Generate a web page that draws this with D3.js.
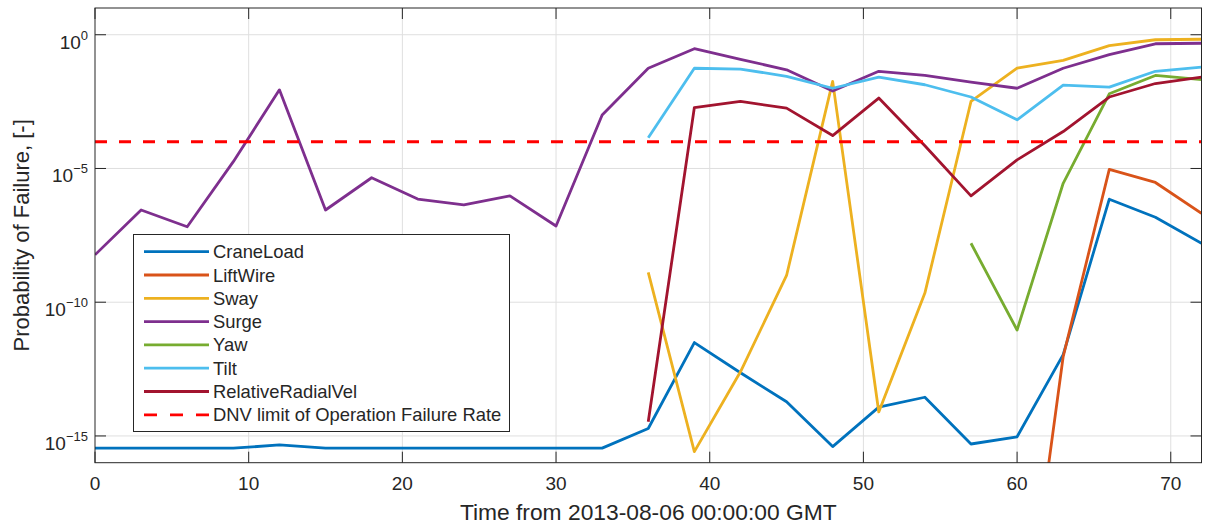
<!DOCTYPE html>
<html>
<head>
<meta charset="utf-8">
<script src="https://cdn.jsdelivr.net/npm/d3@7"></script>
<style>
  html, body { margin: 0; padding: 0; background: #fff; }
  svg { display: block; font-family: "Liberation Sans", Arial, Helvetica, sans-serif; }
</style>
</head>
<body>
<div id="visualization"></div>
<script>
// hours since 2013-08-06 00:00 GMT
const hours = [0, 3, 6, 9, 12, 15, 18, 21, 24, 27, 30, 33, 36, 39, 42, 45, 48, 51, 54, 57, 60, 63, 66, 69, 72];

const craneLoad = [3.5e-16, 3.5e-16, 3.5e-16, 3.5e-16, 4.6e-16, 3.5e-16, 3.5e-16, 3.5e-16, 3.5e-16, 3.5e-16, 3.5e-16, 3.5e-16,
  1.9e-15, 3.1e-12, 2.3e-13, 1.9e-14, 4.0e-16, 1.2e-14, 2.8e-14, 5.0e-16, 9.3e-16, 1.1e-12, 7.1e-7, 1.5e-7, 1.6e-8];
const liftWire = [null, null, null, null, null, null, null, null, null, null, null, null,
  null, null, null, null, null, null, null, null, 1.6e-25, 9.3e-13, 9.3e-6, 3.0e-6, 2.1e-7];
const sway = [null, null, null, null, null, null, null, null, null, null, null, null,
  1.3e-9, 2.6e-16, 2.5e-13, 1.0e-9, 1.8e-2, 7.9e-15, 2.2e-10, 3.2e-3, 5.6e-2, 0.11, 0.39, 0.65, 0.68];
const surge = [5.9e-9, 2.8e-7, 6.6e-8, 1.8e-5, 8.7e-3, 2.8e-7, 4.5e-6, 7.2e-7, 4.4e-7, 9.5e-7, 7.1e-8, 1.0e-3,
  5.6e-2, 0.30, 0.12, 4.9e-2, 7.9e-3, 4.3e-2, 3.0e-2, 1.7e-2, 1.0e-2, 5.6e-2, 0.18, 0.46, 0.48];
const yaw = [null, null, null, null, null, null, null, null, null, null, null, null,
  null, null, null, null, null, null, null, 1.6e-8, 9.1e-12, 2.8e-6, 6.2e-3, 3.0e-2, 2.1e-2];
const tilt = [null, null, null, null, null, null, null, null, null, null, null, null,
  1.4e-4, 5.6e-2, 5.2e-2, 2.8e-2, 1.0e-2, 2.6e-2, 1.35e-2, 4.7e-3, 6.6e-4, 1.3e-2, 1.1e-2, 4.3e-2, 6.2e-2];
const relativeRadialVel = [null, null, null, null, null, null, null, null, null, null, null, null,
  3.4e-15, 1.9e-3, 3.2e-3, 1.8e-3, 1.7e-4, 4.3e-3, 7.1e-5, 9.5e-7, 2.1e-5, 2.4e-4, 4.7e-3, 1.5e-2, 2.6e-2];
const dnvLimit = 1e-4;

const seriesNames = ['CraneLoad', 'LiftWire', 'Sway', 'Surge', 'Yaw', 'Tilt', 'RelativeRadialVel'];
const seriesValues = [craneLoad, liftWire, sway, surge, yaw, tilt, relativeRadialVel];
const seriesColors = ['#0072BD', '#D95319', '#EDB120', '#7E2F8E', '#77AC30', '#4DBEEE', '#A2142F'];
const dnvName = 'DNV limit of Operation Failure Rate';

const xTicks = [0, 10, 20, 30, 40, 50, 60, 70];
const yTickExponents = [0, -5, -10, -15];

const viz = {
  width: 1209,
  height: 527,
  margin: { left: 95, right: 1201.5, top: 8, bottom: 462.7 },
  ink: '#262626',

  init() {
    this.svg = d3.select('#visualization').append('svg')
      .attr('width', this.width)
      .attr('height', this.height);

    this.x = d3.scaleLinear().domain([0, 72]).range([this.margin.left, this.margin.right]);
    this.y = d3.scaleLog().domain([1e-16, 10]).range([this.margin.bottom, this.margin.top]);

    this.drawGrid();
    this.drawLines();
    this.drawFrame();
    this.drawLabels();
    this.drawLegend();
  },

  drawGrid() {
    const g = this.svg.append('g').attr('stroke', '#dfdfdf').attr('stroke-width', 1);
    for (const t of xTicks) {
      if (t === 0) continue;
      g.append('line')
        .attr('x1', this.x(t)).attr('x2', this.x(t))
        .attr('y1', this.margin.top).attr('y2', this.margin.bottom);
    }
    for (const e of yTickExponents) {
      g.append('line')
        .attr('x1', this.margin.left).attr('x2', this.margin.right)
        .attr('y1', this.y(Math.pow(10, e))).attr('y2', this.y(Math.pow(10, e)));
    }
  },

  drawLines() {
    this.svg.append('clipPath').attr('id', 'plot-clip')
      .append('rect')
      .attr('x', this.margin.left).attr('y', this.margin.top)
      .attr('width', this.margin.right - this.margin.left)
      .attr('height', this.margin.bottom - this.margin.top);

    const g = this.svg.append('g').attr('clip-path', 'url(#plot-clip)');
    const line = d3.line()
      .defined((d) => d[1] != null)
      .x((d) => this.x(d[0]))
      .y((d) => this.y(d[1]));

    seriesValues.forEach((values, i) => {
      g.append('path')
        .datum(hours.map((h, j) => [h, values[j]]))
        .attr('d', line)
        .attr('fill', 'none')
        .attr('stroke', seriesColors[i])
        .attr('stroke-width', 2.8)
        .attr('stroke-linejoin', 'round');
    });

    g.append('line')
      .attr('x1', this.x(0)).attr('x2', this.x(72))
      .attr('y1', this.y(dnvLimit)).attr('y2', this.y(dnvLimit))
      .attr('stroke', '#FF0000')
      .attr('stroke-width', 2.8)
      .attr('stroke-dasharray', '12,12');
  },

  drawFrame() {
    const { left, right, top, bottom } = this.margin;
    const g = this.svg.append('g').attr('stroke', this.ink).attr('stroke-width', 1).attr('fill', 'none');
    g.append('rect')
      .attr('x', left).attr('y', top)
      .attr('width', right - left).attr('height', bottom - top);

    for (const t of xTicks) {
      const px = this.x(t);
      g.append('line').attr('x1', px).attr('x2', px).attr('y1', bottom).attr('y2', bottom - 11);
      g.append('line').attr('x1', px).attr('x2', px).attr('y1', top).attr('y2', top + 11);
    }
    for (const e of yTickExponents) {
      const py = this.y(Math.pow(10, e));
      g.append('line').attr('x1', left).attr('x2', left + 11).attr('y1', py).attr('y2', py);
      g.append('line').attr('x1', right).attr('x2', right - 11).attr('y1', py).attr('y2', py);
    }
  },

  drawLabels() {
    const g = this.svg.append('g').attr('fill', this.ink);

    for (const t of xTicks) {
      g.append('text')
        .attr('x', this.x(t)).attr('y', 489.5)
        .attr('text-anchor', 'middle')
        .attr('font-size', 19)
        .text(t);
    }

    for (const e of yTickExponents) {
      const py = this.y(Math.pow(10, e));
      const label = g.append('text')
        .attr('x', 88).attr('y', py + 14)
        .attr('text-anchor', 'end')
        .attr('font-size', 19);
      label.append('tspan').text('10');
      label.append('tspan')
        .attr('dy', -9)
        .attr('font-size', 13)
        .text(e === 0 ? '0' : '\u2212' + Math.abs(e));
    }

    g.append('text')
      .attr('x', (this.margin.left + this.margin.right) / 2).attr('y', 519.5)
      .attr('text-anchor', 'middle')
      .attr('font-size', 22.8)
      .text('Time from 2013-08-06 00:00:00 GMT');

    g.append('text')
      .attr('transform', `translate(29,${(this.margin.top + this.margin.bottom) / 2}) rotate(-90)`)
      .attr('text-anchor', 'middle')
      .attr('font-size', 22)
      .text('Probability of Failure, [-]');
  },

  drawLegend() {
    const g = this.svg.append('g');
    g.append('rect')
      .attr('x', 133.5).attr('y', 234.5)
      .attr('width', 376).attr('height', 197)
      .attr('fill', '#fff')
      .attr('stroke', this.ink)
      .attr('stroke-width', 1);

    const items = seriesNames.map((name, i) => ({ name, color: seriesColors[i], dash: null }));
    items.push({ name: dnvName, color: '#FF0000', dash: '13,13' });

    items.forEach((item, i) => {
      const cy = 251.7 + i * 23.3;
      g.append('line')
        .attr('x1', 144).attr('x2', 209)
        .attr('y1', cy).attr('y2', cy)
        .attr('stroke', item.color)
        .attr('stroke-width', 2.8)
        .attr('stroke-dasharray', item.dash);
      g.append('text')
        .attr('x', 213).attr('y', cy + 6.5)
        .attr('font-size', 18.4)
        .attr('fill', this.ink)
        .text(item.name);
    });
  }
};

viz.init();
</script>
</body>
</html>
